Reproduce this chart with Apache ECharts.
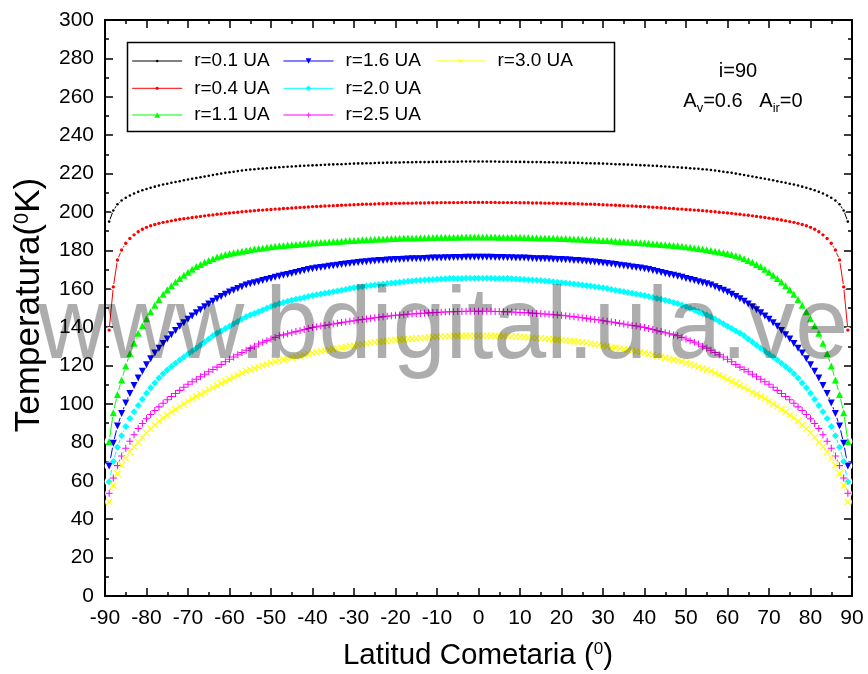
<!DOCTYPE html>
<html>
<head>
<meta charset="utf-8">
<script src="https://cdn.jsdelivr.net/npm/echarts@6/dist/echarts.min.js"></script>
<style>html,body{margin:0;padding:0;background:#fff}#c{width:868px;height:674px}</style>
</head>
<body>
<div id="c"></div>
<script>
// ---------------- DATA ----------------
// Series names (legend)
const seriesNames = ['r=0.1 UA', 'r=0.4 UA', 'r=1.1 UA', 'r=1.6 UA', 'r=2.0 UA', 'r=2.5 UA', 'r=3.0 UA'];
// Latitude range of the plotted points (1 degree steps, symmetric curves)
const latMin = -89, latMax = 89;
// Temperatures (K) for |latitude| = 0,1,2,...,89 degrees
const T_r01 = [226.3,226.3,226.3,226.3,226.3,226.2,226.2,226.2,226.2,226.1,
226.1,226.1,226.0,226.0,226.0,226.0,225.9,225.9,225.9,225.8,
225.8,225.7,225.7,225.6,225.6,225.5,225.4,225.4,225.3,225.3,
225.2,225.1,225.0,224.9,224.9,224.8,224.7,224.6,224.5,224.4,
224.3,224.2,224.1,224.0,223.8,223.7,223.6,223.4,223.3,223.1,
223.0,222.8,222.6,222.5,222.3,222.1,221.9,221.6,221.3,221.0,
220.7,220.4,220.0,219.7,219.3,218.9,218.5,218.1,217.7,217.3,
216.9,216.5,216.0,215.6,215.2,214.7,214.3,213.8,213.2,212.6,
212.0,211.3,210.5,209.6,208.6,207.4,206.0,204.0,200.8,195.0];
const T_r04 = [205.0,205.0,205.0,205.0,205.0,204.9,204.9,204.9,204.9,204.9,
204.8,204.8,204.8,204.7,204.7,204.7,204.6,204.6,204.6,204.5,
204.5,204.4,204.4,204.3,204.3,204.2,204.1,204.1,204.0,203.9,
203.8,203.7,203.6,203.5,203.4,203.3,203.2,203.1,203.0,202.9,
202.8,202.6,202.5,202.4,202.2,202.1,201.9,201.8,201.6,201.5,
201.3,201.2,201.0,200.9,200.7,200.5,200.3,200.1,199.9,199.7,
199.5,199.3,199.0,198.8,198.5,198.3,198.0,197.7,197.4,197.1,
196.8,196.5,196.2,195.8,195.4,195.0,194.6,194.1,193.5,192.8,
192.0,191.0,189.7,188.1,186.2,183.7,180.2,175.0,161.0,138.5];
const T_r11 = [187.0,187.0,187.0,187.0,187.0,186.9,186.9,186.9,186.9,186.8,
186.8,186.7,186.7,186.6,186.6,186.5,186.5,186.4,186.4,186.3,
186.2,186.2,186.1,186.0,185.9,185.8,185.7,185.6,185.5,185.3,
185.2,185.1,185.0,184.8,184.7,184.6,184.4,184.3,184.1,184.0,
183.8,183.7,183.5,183.3,183.1,183.0,182.8,182.6,182.4,182.1,
181.9,181.6,181.3,181.0,180.7,180.4,180.0,179.6,179.2,178.8,
178.4,177.8,177.2,176.5,175.6,174.8,173.8,172.7,171.6,170.2,
168.6,167.1,165.4,163.6,161.6,159.5,157.1,154.4,151.4,148.0,
144.4,140.7,136.8,131.7,126.3,119.8,112.5,105.0,95.5,80.5];
const T_r16 = [176.4,176.4,176.4,176.4,176.3,176.3,176.3,176.2,176.2,176.1,
176.1,176.0,175.9,175.8,175.7,175.7,175.6,175.5,175.4,175.3,
175.2,175.1,175.0,174.8,174.7,174.5,174.3,174.1,173.9,173.7,
173.5,173.2,172.9,172.6,172.3,172.0,171.7,171.4,171.1,170.8,
170.5,170.0,169.5,169.0,168.5,168.0,167.5,167.1,166.6,166.0,
165.4,164.9,164.3,163.7,163.1,162.6,162.0,161.1,160.2,159.3,
158.3,157.2,156.0,154.8,153.5,152.1,150.6,149.1,147.5,145.8,
144.1,142.3,140.5,138.3,136.1,133.8,131.5,129.0,126.5,123.6,
120.5,117.1,113.5,109.6,105.5,100.5,95.0,88.5,79.5,67.7];
const T_r20 = [165.5,165.5,165.5,165.5,165.4,165.4,165.3,165.3,165.2,165.1,
165.0,164.9,164.7,164.6,164.4,164.3,164.1,163.9,163.7,163.4,
163.2,163.0,162.8,162.5,162.3,162.0,161.7,161.4,161.1,160.8,
160.5,160.1,159.7,159.3,158.9,158.5,158.1,157.7,157.3,156.9,
156.5,156.0,155.5,155.0,154.5,154.0,153.5,152.9,152.4,151.6,
150.8,149.9,149.0,148.1,147.2,146.4,145.5,144.3,143.0,141.8,
140.5,139.3,138.0,136.8,135.5,133.9,132.3,130.6,129.0,127.5,
126.0,124.5,122.9,121.2,119.5,117.7,115.8,113.6,111.0,108.4,
105.6,102.5,99.2,96.0,92.5,88.3,83.5,77.5,70.0,59.5];
const T_r25 = [148.3,148.3,148.3,148.3,148.2,148.2,148.1,148.0,147.9,147.8,
147.7,147.6,147.5,147.3,147.2,147.0,146.9,146.7,146.5,146.4,
146.2,146.0,145.7,145.5,145.2,144.9,144.6,144.3,144.0,143.7,
143.4,143.1,142.7,142.4,142.0,141.7,141.3,140.9,140.6,140.2,
139.8,139.3,138.8,138.2,137.7,137.1,136.6,136.0,135.5,134.7,
133.9,133.0,132.2,131.2,130.1,129.1,128.0,126.8,125.7,124.5,
123.3,122.0,120.6,119.2,118.0,116.8,115.5,114.2,112.9,111.6,
110.3,108.7,107.1,105.5,103.9,102.2,100.4,98.5,96.6,94.5,
92.3,89.8,87.2,84.0,80.6,77.0,72.9,67.9,61.5,53.5];
const T_r30 = [135.6,135.6,135.6,135.5,135.5,135.4,135.4,135.3,135.2,135.1,
135.0,134.8,134.7,134.5,134.4,134.2,134.0,133.8,133.6,133.5,
133.3,133.1,132.8,132.6,132.4,132.1,131.8,131.5,131.1,130.8,
130.5,130.1,129.7,129.3,128.9,128.5,128.1,127.7,127.3,126.9,
126.5,126.0,125.5,125.0,124.6,124.1,123.6,123.1,122.6,122.0,
121.3,120.7,120.0,119.3,118.6,117.9,117.2,116.2,115.1,114.1,
113.0,111.9,110.8,109.7,108.6,107.5,106.3,105.2,104.0,102.7,
101.4,100.0,98.7,97.3,95.8,94.3,92.8,91.0,89.1,87.1,
84.9,82.6,80.2,77.7,75.0,71.8,68.2,63.8,57.5,49.0];
const temps = [T_r01, T_r04, T_r11, T_r16, T_r20, T_r25, T_r30];

// Axis ranges / ticks
const xRange = [-90, 90], xStep = 10;
const yRange = [0, 300], yStep = 20;

// ---------------- STYLE ----------------
const FONT = '"Liberation Sans", Arial, Helvetica, sans-serif';
const PLUS = 'path://M0,2.55H6V3.45H0Z M2.55,0H3.45V6H2.55Z';
const CROSS = 'path://M0,0.65L0.65,0L6,5.35L5.35,6Z M5.35,0L6,0.65L0.65,6L0,5.35Z';
const DOWNTRI = 'path://M0,0L10,0L5,9Z';
const styles = [
  {color: '#000000', symbol: 'circle',   size: 2.6, halo: 5, legendH: 3},
  {color: '#ff0000', symbol: 'circle',   size: 3.4, halo: 6, legendH: 4},
  {color: '#00ff00', symbol: 'triangle', size: 7,   halo: 9, legendH: 7},
  {color: '#0000ff', symbol: DOWNTRI,    size: 7,   halo: 9, legendH: 7},
  {color: '#00ffff', symbol: 'diamond',  size: 7,   halo: 9, legendH: 7},
  {color: '#ff00ff', symbol: PLUS,       size: 7,   halo: 8, legendH: 6},
  {color: '#ffff00', symbol: CROSS,      size: 7,   halo: 8, legendH: 6}
];
const legendPos = [[131.7, 61], [131.7, 88.3], [131.7, 115], [283, 61], [283, 88.3], [283, 115], [435, 61]];

function buildData(arr) {
  const d = [];
  for (let l = latMin; l <= latMax; l++) d.push([l, arr[Math.abs(l)]]);
  return d;
}

const series = [];
// lines with white "gap to symbol" halos
temps.forEach((arr, i) => {
  const st = styles[i];
  series.push({
    type: 'line', name: '_halo' + i, data: buildData(arr),
    symbol: 'circle', symbolSize: st.halo, showSymbol: true,
    itemStyle: {color: '#ffffff', borderWidth: 0},
    lineStyle: {color: st.color, width: 1},
    z: 2, silent: true, animation: false, emphasis: {disabled: true}
  });
});
// markers
temps.forEach((arr, i) => {
  const st = styles[i];
  series.push({
    type: 'line', name: seriesNames[i], data: buildData(arr),
    symbol: st.symbol, symbolSize: st.size, showSymbol: true,
    itemStyle: {color: st.color, borderWidth: 0},
    lineStyle: {width: 0, opacity: 0},
    z: 3, silent: true, animation: false, emphasis: {disabled: true}
  });
});

const legends = seriesNames.map((n, i) => ({
  data: [{name: n}],
  orient: 'horizontal',
  left: legendPos[i][0], top: legendPos[i][1] - 10,
  padding: 0, itemWidth: 50, itemHeight: styles[i].legendH,
  selectedMode: false,
  lineStyle: {width: 1, opacity: 1, color: styles[i].color},
  itemStyle: {color: styles[i].color},
  textStyle: {fontFamily: FONT, fontSize: 19, color: '#000', lineHeight: 20, padding: [0, 0, 0, 7]}
}));

function axisStyle() {
  return {
    axisLine: {show: true, onZero: false, lineStyle: {color: '#000', width: 2}},
    axisTick: {show: true, inside: true, length: 8, lineStyle: {color: '#000', width: 1.5}},
    minorTick: {show: true, splitNumber: 2, length: 4, lineStyle: {color: '#000', width: 1.5}},
    splitLine: {show: false},
    minorSplitLine: {show: false}
  };
}

const option = {
  animation: false,
  backgroundColor: '#ffffff',
  grid: {left: 105, right: 16, top: 20, bottom: 78, containLabel: false, outerBoundsMode: 'none'},
  xAxis: [
    Object.assign({type: 'value', position: 'bottom', min: xRange[0], max: xRange[1], interval: xStep,
      axisLabel: {fontFamily: FONT, fontSize: 21, color: '#000', margin: 12}}, axisStyle()),
    Object.assign({type: 'value', position: 'top', min: xRange[0], max: xRange[1], interval: xStep,
      axisLabel: {show: false}}, axisStyle())
  ],
  yAxis: [
    Object.assign({type: 'value', position: 'left', min: yRange[0], max: yRange[1], interval: yStep,
      axisLabel: {fontFamily: FONT, fontSize: 21, color: '#000', margin: 11}}, axisStyle()),
    Object.assign({type: 'value', position: 'right', min: yRange[0], max: yRange[1], interval: yStep,
      axisLabel: {show: false}}, axisStyle())
  ],
  legend: legends,
  series: series,
  graphic: {elements: [
    {type: 'rect', shape: {x: 127.5, y: 42.5, width: 487, height: 89}, style: {fill: 'none', stroke: '#000', lineWidth: 1.5}, z: 50, silent: true},
    {type: 'text', x: 738, y: 71, z: 50, silent: true,
      style: {text: 'i=90', fontFamily: FONT, fontSize: 20, fill: '#000', align: 'center', verticalAlign: 'middle'}},
    {type: 'text', x: 743, y: 101, z: 50, silent: true,
      style: {text: '{m|A}{s|v}{m|=0.6   A}{s|ir}{m|=0}', align: 'center', verticalAlign: 'middle', fill: '#000',
        rich: {m: {fontFamily: FONT, fontSize: 20, lineHeight: 20, verticalAlign: 'top', fill: '#000'},
               s: {fontFamily: FONT, fontSize: 13, lineHeight: 13, padding: [11, 0, 0, 0], verticalAlign: 'top', fill: '#000'}}}},
    {type: 'text', x: 478, y: 657, z: 50, silent: true,
      style: {text: '{m|Latitud Cometaria (}{p|0}{m|)}', align: 'center', verticalAlign: 'middle', fill: '#000',
        rich: {m: {fontFamily: FONT, fontSize: 29.5, lineHeight: 32, verticalAlign: 'top', fill: '#000'},
               p: {fontFamily: FONT, fontSize: 17, lineHeight: 17, verticalAlign: 'top', fill: '#000'}}}},
    {type: 'text', x: 31, y: 305, rotation: Math.PI / 2, z: 50, silent: true,
      style: {text: '{m|Temperatura(}{p|0}{m|K)}', align: 'center', verticalAlign: 'middle', fill: '#000',
        rich: {m: {fontFamily: FONT, fontSize: 35, lineHeight: 38, verticalAlign: 'top', fill: '#000'},
               p: {fontFamily: FONT, fontSize: 20, lineHeight: 20, verticalAlign: 'top', fill: '#000'}}}},
    {type: 'text', x: 38, y: 330, scaleX: 0.934, z: 100, silent: true,
      style: {text: 'www.bdigital.ula.ve', fontFamily: FONT, fontSize: 102, fill: 'rgba(0,0,0,0.32)', align: 'left', verticalAlign: 'middle'}}
  ]}
};

const chart = echarts.init(document.getElementById('c'), null, {renderer: 'canvas'});
chart.setOption(option);
</script>
</body>
</html>
